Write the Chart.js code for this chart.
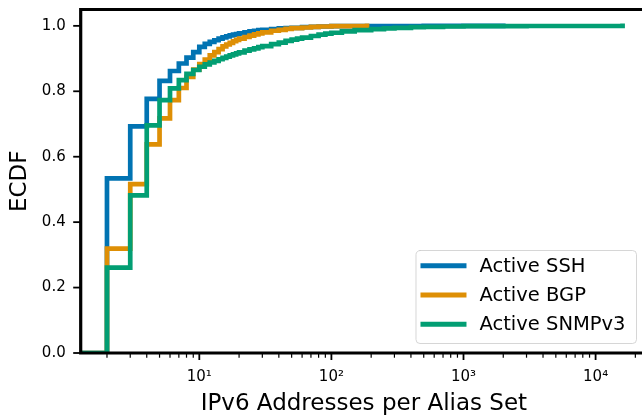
<!DOCTYPE html>
<html>
<head>
<meta charset="utf-8">
<script src="https://cdn.jsdelivr.net/npm/chart.js@4.4.1/dist/chart.umd.min.js"></script>
<style>
  html, body { margin: 0; padding: 0; background: #fff; overflow: hidden; }
  #wrap { width: 650px; height: 415px; }
</style>
</head>
<body>
<div id="wrap"><canvas id="c" width="650" height="415"></canvas></div>
<script>
// ---- data ----
const seriesLabels = ['Active SSH', 'Active BGP', 'Active SNMPv3'];
const seriesColors = ['#0173b2', '#de8f05', '#029e73'];

const sshX = [1, 2, 3, 4, 5, 6, 7, 8, 9, 10, 11, 12, 13, 14, 15, 16, 17, 18, 19, 20, 22, 24, 26, 28, 30, 35, 40, 45, 50, 60, 70, 80, 100, 150, 200, 500, 2000];
const sshY = [0, 0.534, 0.693, 0.777, 0.832, 0.862, 0.885, 0.903, 0.920, 0.936, 0.945, 0.951, 0.956, 0.961, 0.965, 0.968, 0.971, 0.973, 0.975, 0.977, 0.980, 0.983, 0.985, 0.987, 0.988, 0.990, 0.992, 0.993, 0.994, 0.996, 0.997, 0.998, 0.999, 0.9993, 0.9995, 0.9998, 1.0];

const bgpX = [1, 2, 3, 4, 5, 6, 7, 8, 9, 10, 11, 12, 13, 14, 15, 16, 17, 18, 19, 20, 22, 24, 26, 28, 30, 35, 40, 45, 50, 60, 70, 80, 100, 186];
const bgpY = [0, 0.319, 0.516, 0.638, 0.717, 0.773, 0.810, 0.844, 0.866, 0.883, 0.897, 0.910, 0.920, 0.929, 0.937, 0.943, 0.948, 0.953, 0.957, 0.961, 0.966, 0.970, 0.974, 0.977, 0.980, 0.985, 0.988, 0.991, 0.993, 0.995, 0.997, 0.998, 0.999, 1.0];

const snmpX = [1, 2, 3, 4, 5, 6, 7, 8, 9, 10, 11, 12, 13, 14, 15, 16, 17, 18, 19, 20, 22, 24, 26, 28, 30, 35, 40, 45, 50, 55, 60, 70, 80, 90, 100, 120, 150, 200, 250, 300, 400, 500, 700, 1000, 3000, 16000];
const snmpY = [0, 0.261, 0.482, 0.696, 0.773, 0.809, 0.834, 0.853, 0.865, 0.875, 0.882, 0.888, 0.893, 0.898, 0.902, 0.906, 0.910, 0.913, 0.916, 0.919, 0.924, 0.928, 0.931, 0.935, 0.938, 0.944, 0.949, 0.954, 0.958, 0.961, 0.964, 0.969, 0.973, 0.976, 0.979, 0.983, 0.987, 0.990, 0.992, 0.994, 0.996, 0.997, 0.998, 0.999, 0.9995, 1.0];

const xTickValues = [10, 100, 1000, 10000];
const xTickLabels = ['10\u00B9', '10\u00B2', '10\u00B3', '10\u2074'];
const yTickValues = [0, 0.2, 0.4, 0.6, 0.8, 1.0];
const yTickLabels = ['0.0', '0.2', '0.4', '0.6', '0.8', '1.0'];

const xMin = 1.265, xMax = 24500;
const yMin = 0, yMax = 1.05;

const xTitle = 'IPv6 Addresses per Alias Set';
const yTitle = 'ECDF';

// ---- chart ----
const FONT = "'DejaVu Sans', sans-serif";
const toPoints = (xs, ys) => xs.map((x, i) => ({ x: x, y: ys[i] }));
const seriesX = [sshX, bgpX, snmpX];
const seriesY = [sshY, bgpY, snmpY];

const datasets = seriesLabels.map((label, i) => ({
  label: label,
  data: toPoints(seriesX[i], seriesY[i]),
  borderColor: seriesColors[i],
  backgroundColor: seriesColors[i],
  borderWidth: 4.7,
  pointRadius: 0,
  stepped: true,
  fill: false,
  order: 3 - i,
  borderCapStyle: 'square'
}));

const framePlugin = {
  id: 'frame',
  afterDraw(chart) {
    const ctx = chart.ctx;
    const a = chart.chartArea;
    const xs = chart.scales.x, ys = chart.scales.y;
    ctx.save();
    // ticks
    ctx.strokeStyle = '#000';
    xs.ticks.forEach(t => {
      const px = xs.getPixelForValue(t.value);
      ctx.lineWidth = t.major ? 1.8 : 1.2;
      ctx.beginPath();
      ctx.moveTo(px, a.bottom);
      ctx.lineTo(px, a.bottom + (t.major ? 7 : 4.7));
      ctx.stroke();
    });
    ys.ticks.forEach(t => {
      const py = ys.getPixelForValue(t.value);
      ctx.lineWidth = 1.8;
      ctx.beginPath();
      ctx.moveTo(a.left, py);
      ctx.lineTo(a.left - 7.5, py);
      ctx.stroke();
    });
    // spines
    ctx.lineWidth = 3.2;
    ctx.lineCap = 'square';
    ctx.beginPath();
    ctx.moveTo(a.right + 5, a.top);
    ctx.lineTo(a.left, a.top);
    ctx.lineTo(a.left, a.bottom);
    ctx.lineTo(a.right + 5, a.bottom);
    ctx.stroke();

    // legend (lower right)
    const fs = 19.5;
    ctx.font = fs + 'px ' + FONT;
    const items = chart.data.datasets;
    let maxW = 0;
    items.forEach(d => { maxW = Math.max(maxW, ctx.measureText(d.label).width); });
    const padL = 5, handleW = 46, gap = 13, padR = 10.5;
    const rowH = 29.3;
    const boxW = padL + handleW + gap + maxW + padR;
    const boxH = 93;
    const right = a.right - 11, bottom = a.bottom - 10;
    const left = right - boxW, top = bottom - boxH;
    ctx.fillStyle = 'rgba(255,255,255,0.8)';
    ctx.strokeStyle = 'rgba(204,204,204,0.8)';
    ctx.lineWidth = 1;
    ctx.beginPath();
    if (ctx.roundRect) ctx.roundRect(left + 0.5, top + 0.5, boxW, boxH, 4);
    else ctx.rect(left + 0.5, top + 0.5, boxW, boxH);
    ctx.fill();
    ctx.stroke();
    ctx.textBaseline = 'middle';
    ctx.textAlign = 'left';
    items.forEach((d, i) => {
      const cy = top + 15.7 + i * rowH;
      ctx.strokeStyle = d.borderColor;
      ctx.lineWidth = 5;
      ctx.lineCap = 'butt';
      ctx.beginPath();
      ctx.moveTo(left + padL, cy);
      ctx.lineTo(left + padL + handleW, cy);
      ctx.stroke();
      ctx.fillStyle = '#000';
      ctx.fillText(d.label, left + padL + handleW + gap, cy + 1);
    });
    ctx.restore();
  }
};

new Chart(document.getElementById('c'), {
  type: 'line',
  data: { datasets: datasets },
  options: {
    responsive: false,
    animation: false,
    parsing: true,
    layout: { padding: { left: 0, right: 3, top: 9.5, bottom: 0 } },
    plugins: { legend: { display: false }, tooltip: { enabled: false } },
    scales: {
      x: {
        type: 'logarithmic',
        min: xMin,
        max: xMax,
        grid: { display: false, drawTicks: false },
        border: { display: false },
        afterBuildTicks: (scale) => {
          const ticks = [];
          const e0 = Math.floor(Math.log10(scale.min)), e1 = Math.ceil(Math.log10(scale.max));
          for (let e = e0; e <= e1; e++) {
            for (let m = 1; m <= 9; m++) {
              const v = m * Math.pow(10, e);
              if (v >= scale.min && v <= scale.max) ticks.push({ value: v, major: m === 1 });
            }
          }
          scale.ticks = ticks;
        },
        afterFit: (scale) => { scale.height = 62; scale.paddingLeft = 0; scale.paddingRight = 0; },
        ticks: {
          autoSkip: false,
          maxRotation: 0,
          minRotation: 0,
          padding: 15,
          color: '#000',
          font: { family: FONT, size: 15 },
          callback: (value) => {
            const i = xTickValues.indexOf(value);
            return i >= 0 ? xTickLabels[i] : '';
          }
        },
        title: {
          display: true,
          text: xTitle,
          color: '#000',
          font: { family: FONT, size: 23 },
          padding: { top: 0, bottom: -3 }
        }
      },
      y: {
        type: 'linear',
        min: yMin,
        max: yMax,
        grid: { display: false, drawTicks: false },
        border: { display: false },
        afterBuildTicks: (scale) => { scale.ticks = yTickValues.map(v => ({ value: v })); },
        afterFit: (scale) => { scale.width = 80.7; scale.paddingTop = 0; scale.paddingBottom = 0; },
        ticks: {
          padding: 15,
          color: '#000',
          font: { family: FONT, size: 15 },
          callback: (value, index) => yTickLabels[index]
        },
        title: {
          display: true,
          text: yTitle,
          color: '#000',
          font: { family: FONT, size: 23 },
          padding: { top: 6.4, bottom: 0 }
        }
      }
    }
  },
  plugins: [framePlugin]
});
</script>
</body>
</html>
